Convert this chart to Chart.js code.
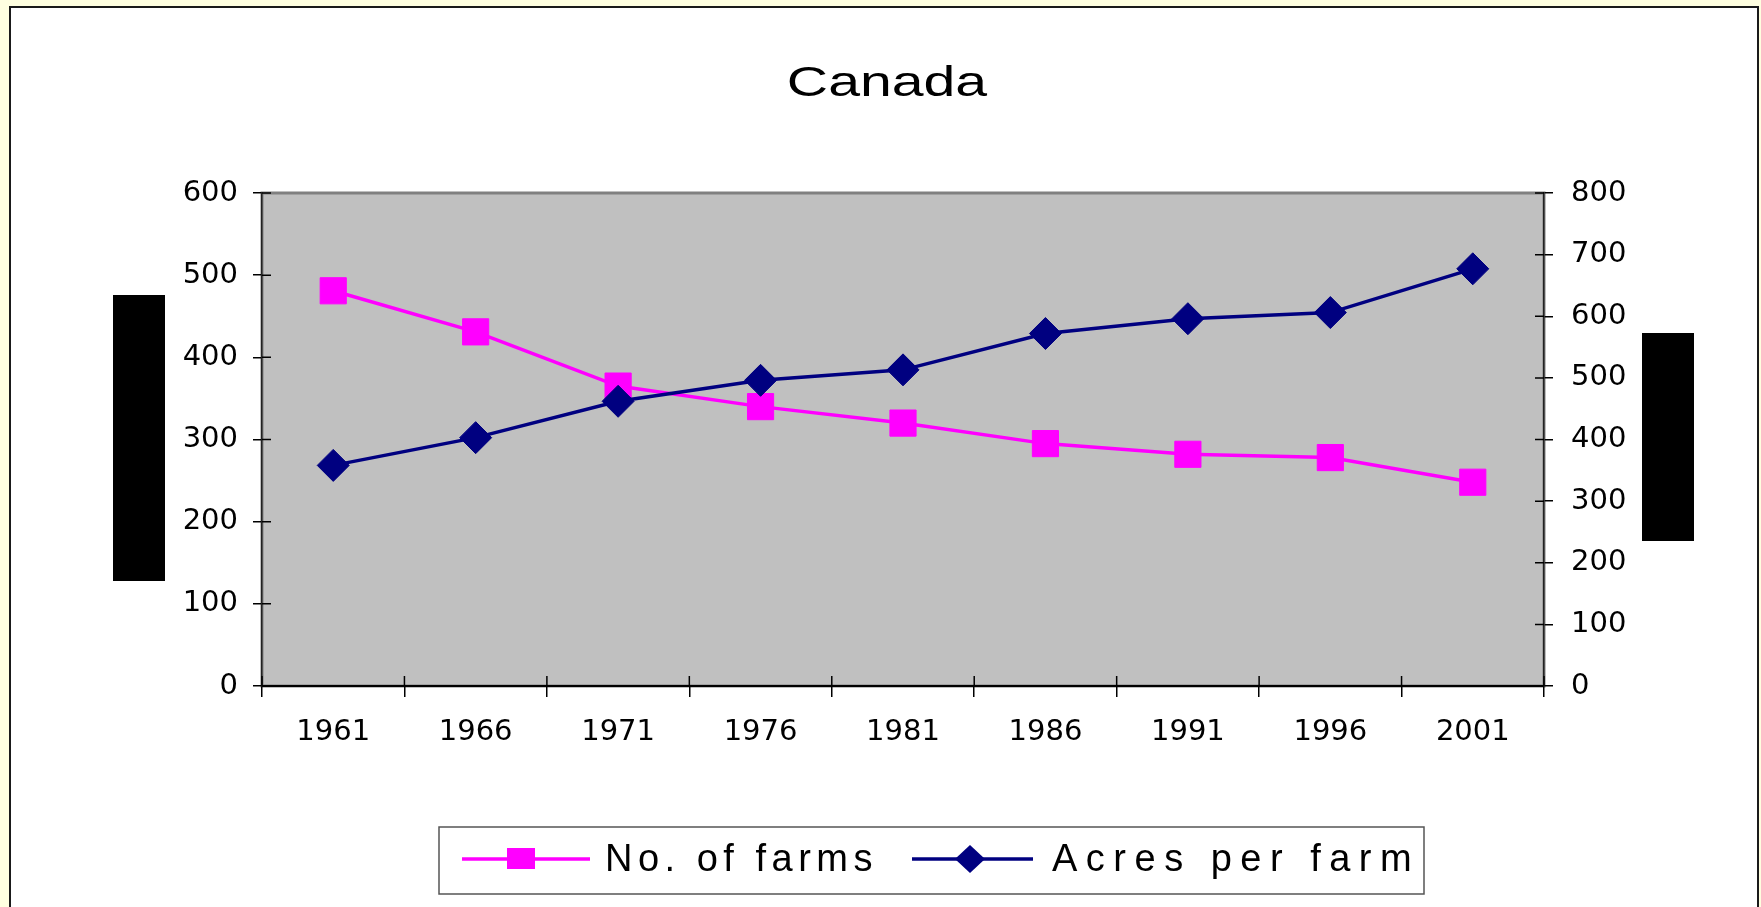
<!DOCTYPE html>
<html>
<head>
<meta charset="utf-8">
<title>Canada</title>
<script src="https://cdn.jsdelivr.net/npm/chart.js@4/dist/chart.umd.min.js"></script>
<style>
  body { margin: 0; background: #FFFFE0; width: 1761px; height: 907px; overflow: hidden; }
  #frame { position: absolute; left: 9px; top: 6px; width: 1746px; height: 920px; background: #fff; border: 2px solid #1a1a1a; }
  #myChart { position: absolute; left: 0; top: 0; }
</style>
</head>
<body>
<div id="frame"></div>
<canvas id="myChart" width="1761" height="907"></canvas>
<script>
var years = ["1961", "1966", "1971", "1976", "1981", "1986", "1991", "1996", "2001"];
var farms = [481, 431, 365, 340, 320, 295, 282, 278, 248]; // thousands, left axis
var acres = [358, 403, 462, 496, 513, 572, 596, 606, 677]; // right axis
var farmsLabel = "No. of farms";
var acresLabel = "Acres per farm";
var titleText = "Canada";

var FONT = '"Liberation Sans", Arial, sans-serif';
var TICKFONT = '"DejaVu Sans", Verdana, sans-serif';
var PINK = "#FF00FF";
var NAVY = "#000080";

// grey plot area with a darker frame
var plotBg = {
    id: "plotBg",
    beforeDraw: function (chart) {
        var a = chart.chartArea;
        var ctx = chart.ctx;
        ctx.save();
        ctx.fillStyle = "#C0C0C0";
        ctx.fillRect(a.left, a.top, a.right - a.left, a.bottom - a.top);
        ctx.strokeStyle = "#808080";
        ctx.lineWidth = 3;
        ctx.strokeRect(a.left, a.top, a.right - a.left, a.bottom - a.top);
        ctx.restore();
    },
    // the tick marks cross the axis, so draw the inner half too
    beforeDatasetsDraw: function (chart) {
        var ctx = chart.ctx;
        var a = chart.chartArea;
        var s;
        ctx.save();
        ctx.strokeStyle = "#000";
        ctx.lineWidth = 1.5;
        ctx.beginPath();
        s = chart.scales.y;
        s.ticks.forEach(function (t) {
            var y = s.getPixelForValue(t.value);
            ctx.moveTo(a.left, y); ctx.lineTo(a.left + 9, y);
        });
        s = chart.scales.y1;
        s.ticks.forEach(function (t) {
            var y = s.getPixelForValue(t.value);
            ctx.moveTo(a.right - 9, y); ctx.lineTo(a.right, y);
        });
        s = chart.scales.x;
        for (var i = 0; i <= years.length; i++) {
            var x = s.getPixelForValue(i - 0.5);
            ctx.moveTo(x, a.bottom); ctx.lineTo(x, a.bottom - 10);
        }
        ctx.stroke();
        ctx.restore();
    }
};

// title, legend box and the two black axis-title blocks
var extras = {
    id: "extras",
    afterDraw: function (chart) {
        var ctx = chart.ctx;
        ctx.save();

        ctx.fillStyle = "#000";
        ctx.font = "43px " + FONT;
        ctx.textAlign = "center";
        ctx.textBaseline = "alphabetic";
        ctx.translate(887, 96);
        ctx.scale(1.33, 1);
        ctx.fillText(titleText, 0, 0);
        ctx.setTransform(1, 0, 0, 1, 0, 0);

        ctx.fillRect(113, 295, 52, 286);
        ctx.fillRect(1642, 333, 52, 208);

        // legend
        ctx.fillStyle = "#fff";
        ctx.fillRect(439, 827, 985, 67);
        ctx.strokeStyle = "#555";
        ctx.lineWidth = 1.5;
        ctx.strokeRect(439, 827, 985, 67);

        ctx.lineWidth = 3.5;
        ctx.strokeStyle = PINK;
        ctx.beginPath(); ctx.moveTo(462, 859); ctx.lineTo(590, 859); ctx.stroke();
        ctx.fillStyle = PINK;
        ctx.fillRect(507, 848, 28, 21);

        ctx.strokeStyle = NAVY;
        ctx.beginPath(); ctx.moveTo(912, 859); ctx.lineTo(1033, 859); ctx.stroke();
        ctx.fillStyle = NAVY;
        ctx.beginPath();
        ctx.moveTo(955, 859); ctx.lineTo(970, 845); ctx.lineTo(985, 859); ctx.lineTo(970, 873);
        ctx.closePath(); ctx.fill();

        ctx.fillStyle = "#000";
        ctx.font = "38px " + FONT;
        ctx.textAlign = "left";
        ctx.letterSpacing = "5.5px";
        ctx.fillText(farmsLabel, 605, 871);
        ctx.letterSpacing = "8.5px";
        ctx.fillText(acresLabel, 1052, 871);
        ctx.restore();
    }
};

var tickFont = { family: TICKFONT, size: 29 };

var chart = new Chart(document.getElementById("myChart").getContext("2d"), {
    type: "line",
    data: {
        labels: years,
        datasets: [{
            label: farmsLabel,
            data: farms,
            yAxisID: "y",
            order: 2,
            borderColor: PINK,
            backgroundColor: PINK,
            borderWidth: 3.5,
            pointStyle: "rect",
            pointRadius: 18.5,
            pointHoverRadius: 18.5,
            pointBorderWidth: 1,
            tension: 0
        }, {
            label: acresLabel,
            data: acres,
            yAxisID: "y1",
            order: 1,
            borderColor: NAVY,
            backgroundColor: NAVY,
            borderWidth: 3.5,
            pointStyle: "rectRot",
            pointRadius: 16,
            pointHoverRadius: 16,
            pointBorderWidth: 1,
            tension: 0
        }]
    },
    options: {
        responsive: false,
        animation: false,
        events: [],
        layout: { padding: { top: 193, left: 0, right: 0, bottom: 0 } },
        plugins: {
            legend: { display: false },
            title: { display: false },
            tooltip: { enabled: false }
        },
        scales: {
            x: {
                offset: true,
                grid: { offset: true, drawOnChartArea: false, tickLength: 11, color: "#000", lineWidth: 1.5 },
                border: { color: "#000", width: 2 },
                ticks: { font: tickFont, color: "#000", padding: 18, maxRotation: 0 },
                afterFit: function (s) { s.height = 221; }
            },
            y: {
                position: "left",
                min: 0,
                max: 600,
                grid: { drawOnChartArea: false, tickLength: 9, color: "#000", lineWidth: 1.5 },
                border: { color: "#222", width: 1.5 },
                ticks: { stepSize: 100, font: tickFont, color: "#000", padding: 15 },
                afterFit: function (s) { s.width = 262; }
            },
            y1: {
                position: "right",
                min: 0,
                max: 800,
                grid: { drawOnChartArea: false, tickLength: 9, color: "#000", lineWidth: 1.5 },
                border: { color: "#222", width: 1.5 },
                ticks: { stepSize: 100, font: tickFont, color: "#000", padding: 18 },
                afterFit: function (s) { s.width = 217; }
            }
        }
    },
    plugins: [plotBg, extras]
});
</script>
</body>
</html>
